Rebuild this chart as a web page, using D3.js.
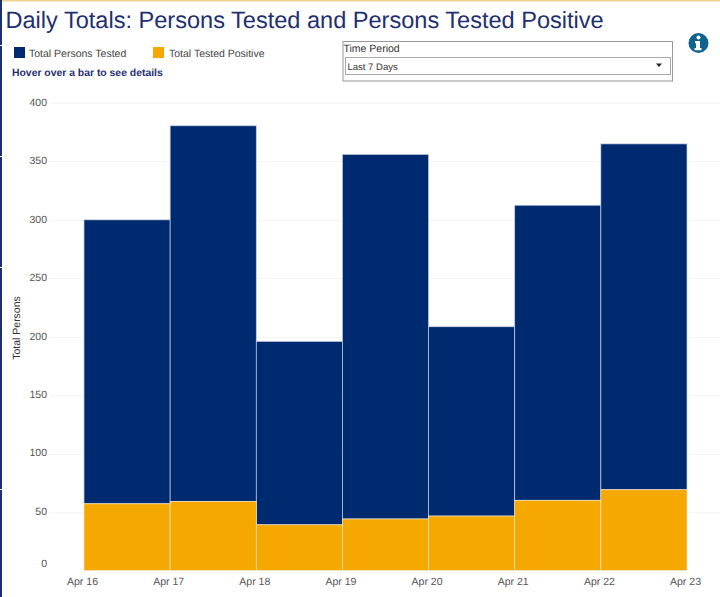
<!DOCTYPE html>
<html><head><meta charset="utf-8">
<script src="https://cdn.jsdelivr.net/npm/d3@7/dist/d3.min.js"></script>
<style>
html,body{margin:0;padding:0;background:#fff}
svg{display:block;font-family:"Liberation Sans",Arial,sans-serif;text-rendering:geometricPrecision}
</style></head><body>
<svg id="c" width="720" height="597"></svg>
<script>
const dayLabels = ["Apr 16","Apr 17","Apr 18","Apr 19","Apr 20","Apr 21","Apr 22","Apr 23"];
const personsTested = [300,380.5,196,356,208.5,312.5,365];
const testedPositive = [57,59,39,44,46.5,60,69];
const yTicks = [0,50,100,150,200,250,300,350,400];
const legendLabels = ["Total Persons Tested","Total Tested Positive"];
const colors = ["#002a6f","#f5a800"];
const navy = "#1f2f70";

const svg = d3.select("#c");
const x = d3.scalePoint().domain(dayLabels).range([84,687]);
const y = d3.scaleLinear().domain([0,400]).range([570.4,103]);

// page furniture
svg.append("rect").attr("x",0).attr("y",0).attr("width",720).attr("height",1.5).attr("fill","#ecd48e");
[[0,45],[46,110],[157,110],[268,221],[490,107]].forEach(([a,h])=>{
  svg.append("rect").attr("x",0).attr("y",a).attr("width",2).attr("height",h).attr("fill","#1c2f6e");
});

svg.append("text").attr("x",5.5).attr("y",27.5).attr("font-size",23.55).attr("fill",navy)
  .text("Daily Totals: Persons Tested and Persons Tested Positive");

// legend
const lx=[14,153], tx=[29,169];
legendLabels.forEach((l,i)=>{
  svg.append("rect").attr("x",lx[i]).attr("y",47).attr("width",11).attr("height",11).attr("fill",colors[i]);
  svg.append("text").attr("x",tx[i]).attr("y",57).attr("font-size",10.5).attr("fill","#444").text(l);
});
svg.append("text").attr("x",12).attr("y",76).attr("font-size",10.4).attr("font-weight","bold").attr("fill",navy)
  .text("Hover over a bar to see details");

// time period control
svg.append("rect").attr("x",343).attr("y",41.5).attr("width",329.5).attr("height",39.5).attr("fill","#fff").attr("stroke","#999");
svg.append("text").attr("x",343.5).attr("y",51.5).attr("font-size",10.5).attr("fill","#333").text("Time Period");
svg.append("rect").attr("x",345.5).attr("y",57.5).attr("width",325).attr("height",17).attr("fill","#fff").attr("stroke","#aaa");
svg.append("text").attr("x",347.5).attr("y",70).attr("font-size",9.5).attr("fill","#333").text("Last 7 Days");
svg.append("path").attr("d","M656 63.5h6l-3 3.5z").attr("fill","#222");

// info icon
svg.append("circle").attr("cx",698.5).attr("cy",43).attr("r",10).attr("fill","#10628f");
svg.append("circle").attr("cx",698.5).attr("cy",37.5).attr("r",2).attr("fill","#fff");
svg.append("path").attr("d","M695 41h5v7h1.5v2.2h-7V48h1.5v-4.8h-1z").attr("fill","#fff");

// axes
const yAxis = d3.axisLeft(y).tickValues(yTicks).tickSize(0).tickPadding(0);
const gy = svg.append("g").attr("transform","translate(47,-1)").call(yAxis);
gy.select(".domain").remove();
gy.selectAll("text").attr("font-size",10.5).attr("fill","#555").attr("font-family","Liberation Sans");
gy.selectAll(".tick").filter(d=>d===0).select("text").attr("dy","-0.25em");

svg.append("g").selectAll("line").data(yTicks.slice(1)).join("line")
  .attr("x1",50).attr("x2",720).attr("y1",d=>Math.round(y(d))+.5).attr("y2",d=>Math.round(y(d))+.5)
  .attr("stroke","#f5f5f5");

const xAxis = d3.axisBottom(x).tickSize(0).tickPadding(0);
const gx = svg.append("g").attr("transform","translate(-2,577.5)").call(xAxis);
gx.select(".domain").remove();
gx.selectAll("text").attr("font-size",10.5).attr("fill","#555").attr("font-family","Liberation Sans");

// bars
const days = dayLabels.slice(0,-1);
const nextOf = d => dayLabels[dayLabels.indexOf(d)+1];
const bars = svg.append("g");
bars.selectAll("rect.t").data(days).join("rect").attr("class","t")
  .attr("x",d=>x(d)).attr("width",d=>x(nextOf(d))-x(d))
  .attr("y",(d,i)=>y(personsTested[i])).attr("height",(d,i)=>y(testedPositive[i])-y(personsTested[i]))
  .attr("fill",colors[0]).attr("stroke","#c4cfe2").attr("stroke-width",0.7);
bars.selectAll("rect.p").data(days).join("rect").attr("class","p")
  .attr("x",d=>x(d)).attr("width",d=>x(nextOf(d))-x(d))
  .attr("y",(d,i)=>y(testedPositive[i])).attr("height",(d,i)=>y(0)-y(testedPositive[i]))
  .attr("fill",colors[1]).attr("stroke","#efe3c6").attr("stroke-width",0.7);

svg.append("text").attr("transform","translate(20,328) rotate(-90)").attr("text-anchor","middle")
  .attr("font-size",10.5).attr("fill","#333").text("Total Persons");
</script>
</body></html>
